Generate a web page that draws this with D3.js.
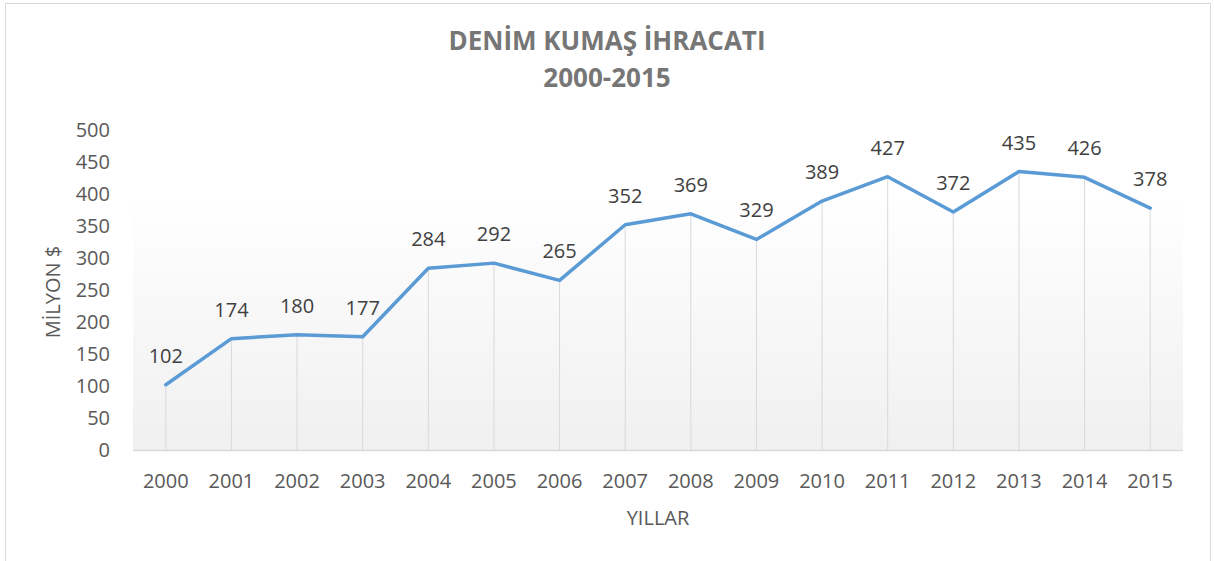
<!DOCTYPE html>
<meta charset="utf-8">
<script src="https://cdn.jsdelivr.net/npm/d3@7"></script>
<style>
    body { margin: 0; background: #fff; }
    text { font-family: "Open Sans", "Noto Sans", sans-serif; fill: #595959; }
    .title { font-weight: bold; font-size: 26px; fill: #767676; }
    .tick-label { font-size: 20px; }
    .data-label { font-size: 20px; fill: #404040; }
    .axis-title { font-size: 20px; }
</style>
<body>
<script>
    // chart data
    var years = ["2000", "2001", "2002", "2003", "2004", "2005", "2006", "2007",
        "2008", "2009", "2010", "2011", "2012", "2013", "2014", "2015"];
    var values = [102, 174, 180, 177, 284, 292, 265, 352, 369, 329, 389, 427, 372, 435, 426, 378];
    var yTicks = [0, 50, 100, 150, 200, 250, 300, 350, 400, 450, 500];

    var width = 1214,
        height = 561;

    var plot = { left: 133, right: 1183, top: 130, bottom: 450 };

    var svg = d3.select("body").append("svg")
        .attr("width", width)
        .attr("height", height);

    // outer chart border
    svg.append("rect")
        .attr("x", 5.5).attr("y", 3.5)
        .attr("width", 1205).attr("height", 570)
        .attr("fill", "#fff")
        .attr("stroke", "#d9d9d9");

    // plot area gradient
    var grad = svg.append("defs").append("linearGradient")
        .attr("id", "bg")
        .attr("x1", 0).attr("y1", 0).attr("x2", 0).attr("y2", 1);
    grad.append("stop").attr("offset", "0%").attr("stop-color", "#ffffff");
    grad.append("stop").attr("offset", "20%").attr("stop-color", "#ffffff");
    grad.append("stop").attr("offset", "100%").attr("stop-color", "#f0f0f0");

    svg.append("rect")
        .attr("x", plot.left).attr("y", plot.top)
        .attr("width", plot.right - plot.left)
        .attr("height", plot.bottom - plot.top)
        .attr("fill", "url(#bg)");

    var x = d3.scaleBand()
        .domain(years)
        .range([plot.left, plot.right]);

    var y = d3.scaleLinear()
        .domain([0, 500])
        .range([plot.bottom, plot.top]);

    function cx(d) { return x(d) + x.bandwidth() / 2; }

    // title
    svg.append("text").attr("class", "title")
        .attr("x", 607).attr("y", 50)
        .attr("text-anchor", "middle")
        .text("DENİM KUMAŞ İHRACATI");
    svg.append("text").attr("class", "title")
        .attr("x", 607).attr("y", 87)
        .attr("text-anchor", "middle")
        .text("2000-2015");

    // drop lines
    svg.append("g").selectAll("line")
        .data(years)
        .enter().append("line")
        .attr("x1", cx).attr("x2", cx)
        .attr("y1", function (d, i) { return y(values[i]); })
        .attr("y2", plot.bottom)
        .attr("stroke", "#d9d9d9")
        .attr("stroke-width", 1);

    // x axis line
    svg.append("line")
        .attr("x1", plot.left).attr("x2", plot.right)
        .attr("y1", plot.bottom + 0.5).attr("y2", plot.bottom + 0.5)
        .attr("stroke", "#d9d9d9")
        .attr("stroke-width", 1.5);

    // y tick labels
    svg.append("g").selectAll("text")
        .data(yTicks)
        .enter().append("text")
        .attr("class", "tick-label")
        .attr("x", 110)
        .attr("y", function (d) { return y(d); })
        .attr("dy", "0.35em")
        .attr("text-anchor", "end")
        .text(function (d) { return d; });

    // x tick labels
    svg.append("g").selectAll("text")
        .data(years)
        .enter().append("text")
        .attr("class", "tick-label")
        .attr("x", cx)
        .attr("y", 488)
        .attr("text-anchor", "middle")
        .text(function (d) { return d; });

    // line
    var line = d3.line()
        .x(function (d, i) { return cx(years[i]); })
        .y(function (d) { return y(d); });

    svg.append("path")
        .datum(values)
        .attr("d", line)
        .attr("fill", "none")
        .attr("stroke", "#5b9bd5")
        .attr("stroke-width", 3.5)
        .attr("stroke-linejoin", "round")
        .attr("stroke-linecap", "round");

    // data labels
    svg.append("g").selectAll("text")
        .data(values)
        .enter().append("text")
        .attr("class", "data-label")
        .attr("x", function (d, i) { return cx(years[i]); })
        .attr("y", function (d) { return y(d) - 22; })
        .attr("text-anchor", "middle")
        .text(function (d) { return d; });

    // axis titles
    svg.append("text").attr("class", "axis-title")
        .attr("transform", "translate(60,292) rotate(-90)")
        .attr("text-anchor", "middle")
        .text("MİLYON $");

    svg.append("text").attr("class", "axis-title")
        .attr("x", (plot.left + plot.right) / 2)
        .attr("y", 525)
        .attr("text-anchor", "middle")
        .text("YILLAR");
</script>
</body>
</html>
